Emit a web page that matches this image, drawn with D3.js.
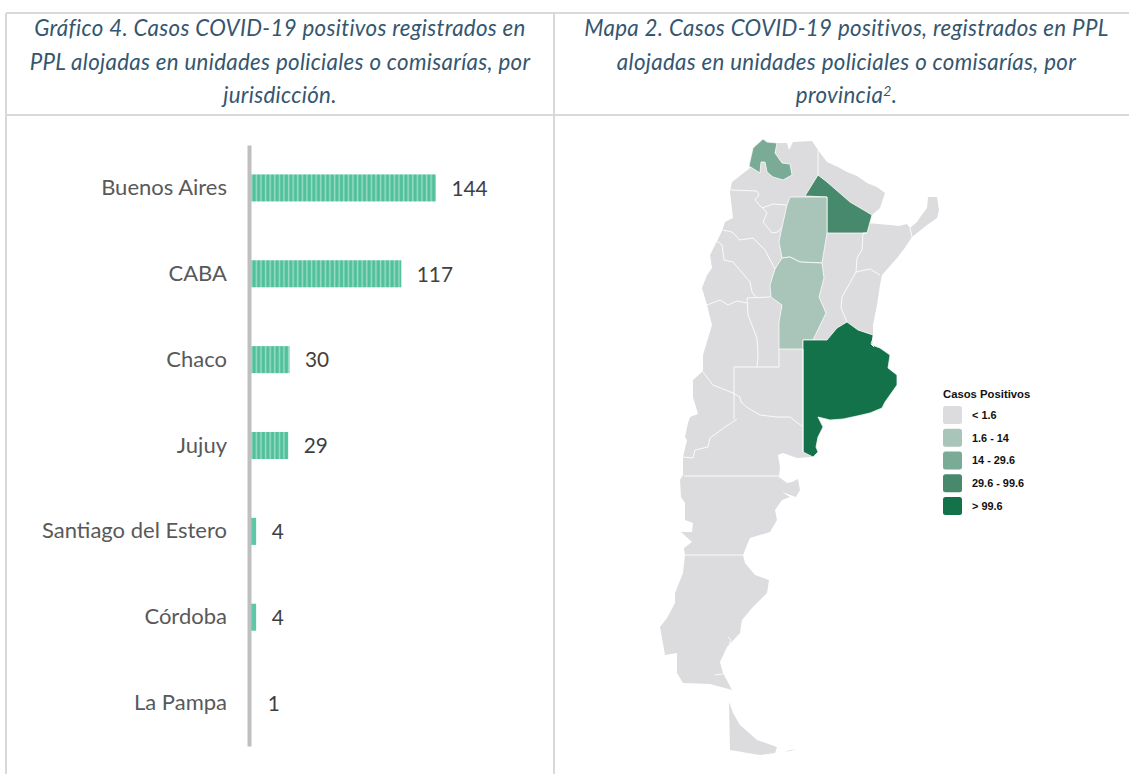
<!DOCTYPE html>
<html><head><meta charset="utf-8">
<script src="https://d3js.org/d3.v7.min.js"></script>
<style>html,body{margin:0;padding:0;background:#fff}svg{display:block}</style>
</head><body><svg id="c" width="1129" height="774"></svg>
<script>
// ---------- Chart data ----------
const jurisdictions = ["Buenos Aires","CABA","Chaco","Jujuy","Santiago del Estero","Córdoba","La Pampa"];
const cases = [144,117,30,29,4,4,1];
const leftTitle = ["Gráfico 4. Casos COVID-19 positivos registrados en","PPL alojadas en unidades policiales o comisarías, por","jurisdicción."];
const rightTitle = ["Mapa 2. Casos COVID-19 positivos, registrados en PPL","alojadas en unidades policiales o comisarías, por","provincia"];
const legendTitle = "Casos Positivos";
const legendLabels = ["< 1.6","1.6 - 14","14 - 29.6","29.6 - 99.6","> 99.6"];
const legendThresholds = [1.6,14,29.6,99.6];
const legendColors = ["#dcdcde","#a9c4b8","#7aab96","#47896c","#14724a"];

// ---------- Map geometry (traced map units) ----------
const countryOutline = [[763,139],[767,142],[777,143],[787,143],[789,150],[793,142],[812,141],[818,150],[827,162],[838,167],[847,172],[857,176],[867,183],[877,187],[885,193],[880,208],[872,215],[867,223],[878,224],[890,225],[899,226],[907,224],[910,228],[917,222],[921,216],[927,208],[928,197],[937,197],[939,210],[937,218],[927,225],[912,237],[904,249],[897,258],[882,275],[880,285],[877,305],[873,325],[873,335],[872,345],[880,348],[890,355],[888,368],[897,375],[897,385],[885,402],[882,408],[870,413],[857,416],[843,419],[830,420],[818,417],[823,427],[818,437],[816,447],[818,452],[812,457],[797,458],[783,453],[778,455],[780,467],[779,477],[787,483],[792,482],[798,479],[800,490],[796,497],[782,492],[790,497],[782,500],[775,510],[777,520],[770,532],[750,538],[747,545],[743,555],[745,563],[755,575],[769,580],[767,593],[752,608],[742,620],[740,633],[727,647],[720,662],[723,673],[732,690],[710,684],[683,683],[677,673],[677,653],[665,655],[660,627],[667,618],[675,603],[675,593],[683,573],[685,555],[684,548],[692,542],[681,532],[692,532],[693,523],[685,520],[685,503],[681,497],[680,480],[683,475],[683,457],[687,440],[685,437],[688,423],[690,417],[698,414],[693,397],[693,380],[703,371],[703,355],[712,325],[707,305],[702,288],[707,275],[712,268],[710,255],[717,241],[722,231],[725,222],[733,218],[730,192],[732,182],[750,168],[749,165],[753,148]];
const tierraDelFuego = [[729,702],[733,713],[740,725],[757,740],[777,747],[775,753],[760,755],[730,750]];
const isla = [[785,752],[790,750],[797,749],[790,751]];
const provinceNames = ["Jujuy","Chaco","Santiago del Estero","Córdoba","Buenos Aires"];
const jujuyShape = [[763,139],[767,142],[777,143],[775,153],[782,163],[790,164],[792,175],[783,180],[773,177],[767,172],[765,162],[761,162],[760,173],[749,166],[753,148]];
const chacoShape = [[818,175],[827,182],[850,202],[872,215],[867,233],[827,233],[827,197],[805,196]];
const santiagoShape = [[790,197],[827,197],[827,233],[822,263],[800,262],[790,257],[782,258],[779,242],[781,232],[787,205]];
const cordobaShape = [[782,258],[775,269],[770,285],[771,297],[782,305],[779,322],[779,349],[803,349],[803,340],[813,340],[826,313],[819,297],[824,278],[822,263],[800,262],[790,257]];
const buenosAiresShape = [[803,340],[827,340],[837,328],[847,322],[858,330],[873,335],[872,345],[880,348],[890,355],[888,368],[897,375],[897,385],[885,402],[882,408],[870,413],[857,416],[843,419],[830,420],[818,417],[823,427],[818,437],[816,447],[818,452],[813,457],[803,452]];
const provinceShapes = [jujuyShape,chacoShape,santiagoShape,cordobaShape,buenosAiresShape];
const borderLines = [
 [[818,150],[818,175]],
 [[731,190],[757,191],[759,195],[755,200],[762,208],[773,204],[787,205]],
 [[763,208],[767,213],[763,222],[772,233],[778,232],[781,228]],
 [[723,230],[732,232],[740,240],[753,238],[765,250],[775,269]],
 [[717,241],[722,245],[724,260],[733,262],[750,282],[752,292],[756,297]],
 [[707,305],[720,300],[728,305],[737,301],[747,303]],
 [[747,298],[770,297]],
 [[747,298],[748,315],[757,338],[758,355],[757,367]],
 [[734,419],[734,367],[779,367],[779,349]],
 [[803,349],[803,452]],
 [[703,372],[713,385],[733,393],[740,397],[741,402],[748,408],[760,415],[777,417],[790,417],[803,427]],
 [[737,419],[725,427],[710,438],[708,447],[695,450],[693,458],[683,457]],
 [[684,476],[779,476]],
 [[684,555],[743,555]],
 [[867,233],[863,233],[862,250],[857,258],[856,272],[842,297],[841,308],[847,322]],
 [[856,272],[870,269],[880,275]],
 [[910,228],[912,237]],
 [[873,338],[871,344],[874,347]]
];
const inlets = [[[728,637],[731,640],[729,644]],[[715,675],[723,674]]];

// ---------- Drawing ----------
const svg = d3.select("#c");
const ink = "#d9d9d9", titleColor = "#35566f", font = "Lato, Carlito, sans-serif";

// table frame
const frame = svg.append("g").attr("stroke",ink).attr("stroke-width",2).attr("fill","none");
[[6,13,1129,13],[6,115,1129,115],[6,13,6,774],[554,13,554,774]].forEach(l=>
  frame.append("line").attr("x1",l[0]).attr("y1",l[1]).attr("x2",l[2]).attr("y2",l[3]));

// titles
function title(lines,cx){
  const t = svg.append("text").attr("text-anchor","middle").attr("font-family",font)
    .attr("font-style","italic").attr("font-size",22.3).attr("letter-spacing",0.32).attr("fill",titleColor);
  lines.forEach((s,i)=>t.append("tspan").attr("x",cx).attr("y",36+i*33.6).text(s));
  return t;
}
title(leftTitle,280);
const rt = title(rightTitle,846.5);
rt.append("tspan").attr("font-size",14).attr("dy",-7).text("2");
rt.append("tspan").attr("dy",7).text(".");

// stripe pattern
const defs = svg.append("defs");
const pat = defs.append("pattern").attr("id","stripes").attr("patternUnits","userSpaceOnUse")
  .attr("width",4.6).attr("height",10);
pat.append("rect").attr("width",4.6).attr("height",10).attr("fill","#4fc09b");
pat.append("rect").attr("x",2.6).attr("width",1.5).attr("height",10).attr("fill","#9bdcc6");

// bar chart
const x = d3.scaleLinear().domain([0,144]).range([251,436]);
const y = d3.scaleBand().domain(jurisdictions).range([145,746]).paddingInner(0.685).paddingOuter(0.3425);
const rows = jurisdictions.map((name,i)=>({name,value:cases[i]}));
svg.append("g").selectAll("rect").data(rows.filter(d=>d.value>1)).join("rect")
  .attr("x",x(0)).attr("y",d=>y(d.name)).attr("height",y.bandwidth())
  .attr("width",d=>x(d.value)-x(0))
  .attr("fill",d=>d.value>5?"url(#stripes)":"#5cc8a8");
const yAxis = d3.axisLeft(y).tickSize(0).tickPadding(22);
const ax = svg.append("g").attr("transform","translate(249,0)").call(yAxis);
ax.select(".domain").attr("stroke","#bfbfbf").attr("stroke-width",4);
ax.selectAll("text").attr("font-family",font).attr("font-size",22).attr("fill","#595959");
svg.append("g").selectAll("text").data(rows).join("text")
  .attr("x",d=>x(d.value)+15.5).attr("y",d=>y(d.name)+y.bandwidth()/2+0.5).attr("dy","0.35em")
  .attr("font-family",font).attr("font-size",20.8).attr("fill","#404040").text(d=>d.value);

// map
const mx = d3.scaleLinear().domain([650,950]).range([650,950]);
const my = d3.scaleLinear().domain([125,775]).range([125,775]);
const line = d3.line().x(d=>mx(d[0])).y(d=>my(d[1]));
const color = d3.scaleThreshold().domain(legendThresholds).range(legendColors);
const casesByName = new Map(jurisdictions.map((n,i)=>[n,cases[i]]));
const map = svg.append("g");
map.selectAll("path.land").data([countryOutline,tierraDelFuego,isla]).join("path").attr("class","land")
  .attr("d",d=>line(d)+"Z").attr("fill",legendColors[0]);
map.selectAll("path.prov").data(provinceNames).join("path").attr("class","prov")
  .attr("d",(d,i)=>line(provinceShapes[i])+"Z")
  .attr("fill",d=>color(casesByName.get(d)))
  .attr("stroke","#fff").attr("stroke-width",1).attr("stroke-opacity",.75).attr("stroke-linejoin","round");
map.selectAll("path.border").data(borderLines.concat(inlets)).join("path").attr("class","border")
  .attr("d",line).attr("fill","none").attr("stroke","#fff").attr("stroke-width",1).attr("stroke-opacity",.85);

// legend
const lg = svg.append("g").attr("font-family","'Liberation Sans', Arial, sans-serif").attr("font-weight","bold").attr("fill","#111");
lg.append("text").attr("x",943).attr("y",398).attr("font-size",11.3).text(legendTitle);
const ly = d3.scaleBand().domain(legendLabels).range([403.6,517.4]).paddingInner(0.2).paddingOuter(0.1);
lg.selectAll("rect").data(legendLabels).join("rect")
  .attr("x",943).attr("y",d=>ly(d)).attr("width",19).attr("height",ly.bandwidth()).attr("rx",2.5)
  .attr("fill",(d,i)=>legendColors[i]);
lg.selectAll("text.l").data(legendLabels).join("text").attr("class","l")
  .attr("x",972).attr("y",d=>ly(d)+ly.bandwidth()/2).attr("dy","0.35em")
  .attr("font-size",10.9).text(d=>d);
</script></body></html>
